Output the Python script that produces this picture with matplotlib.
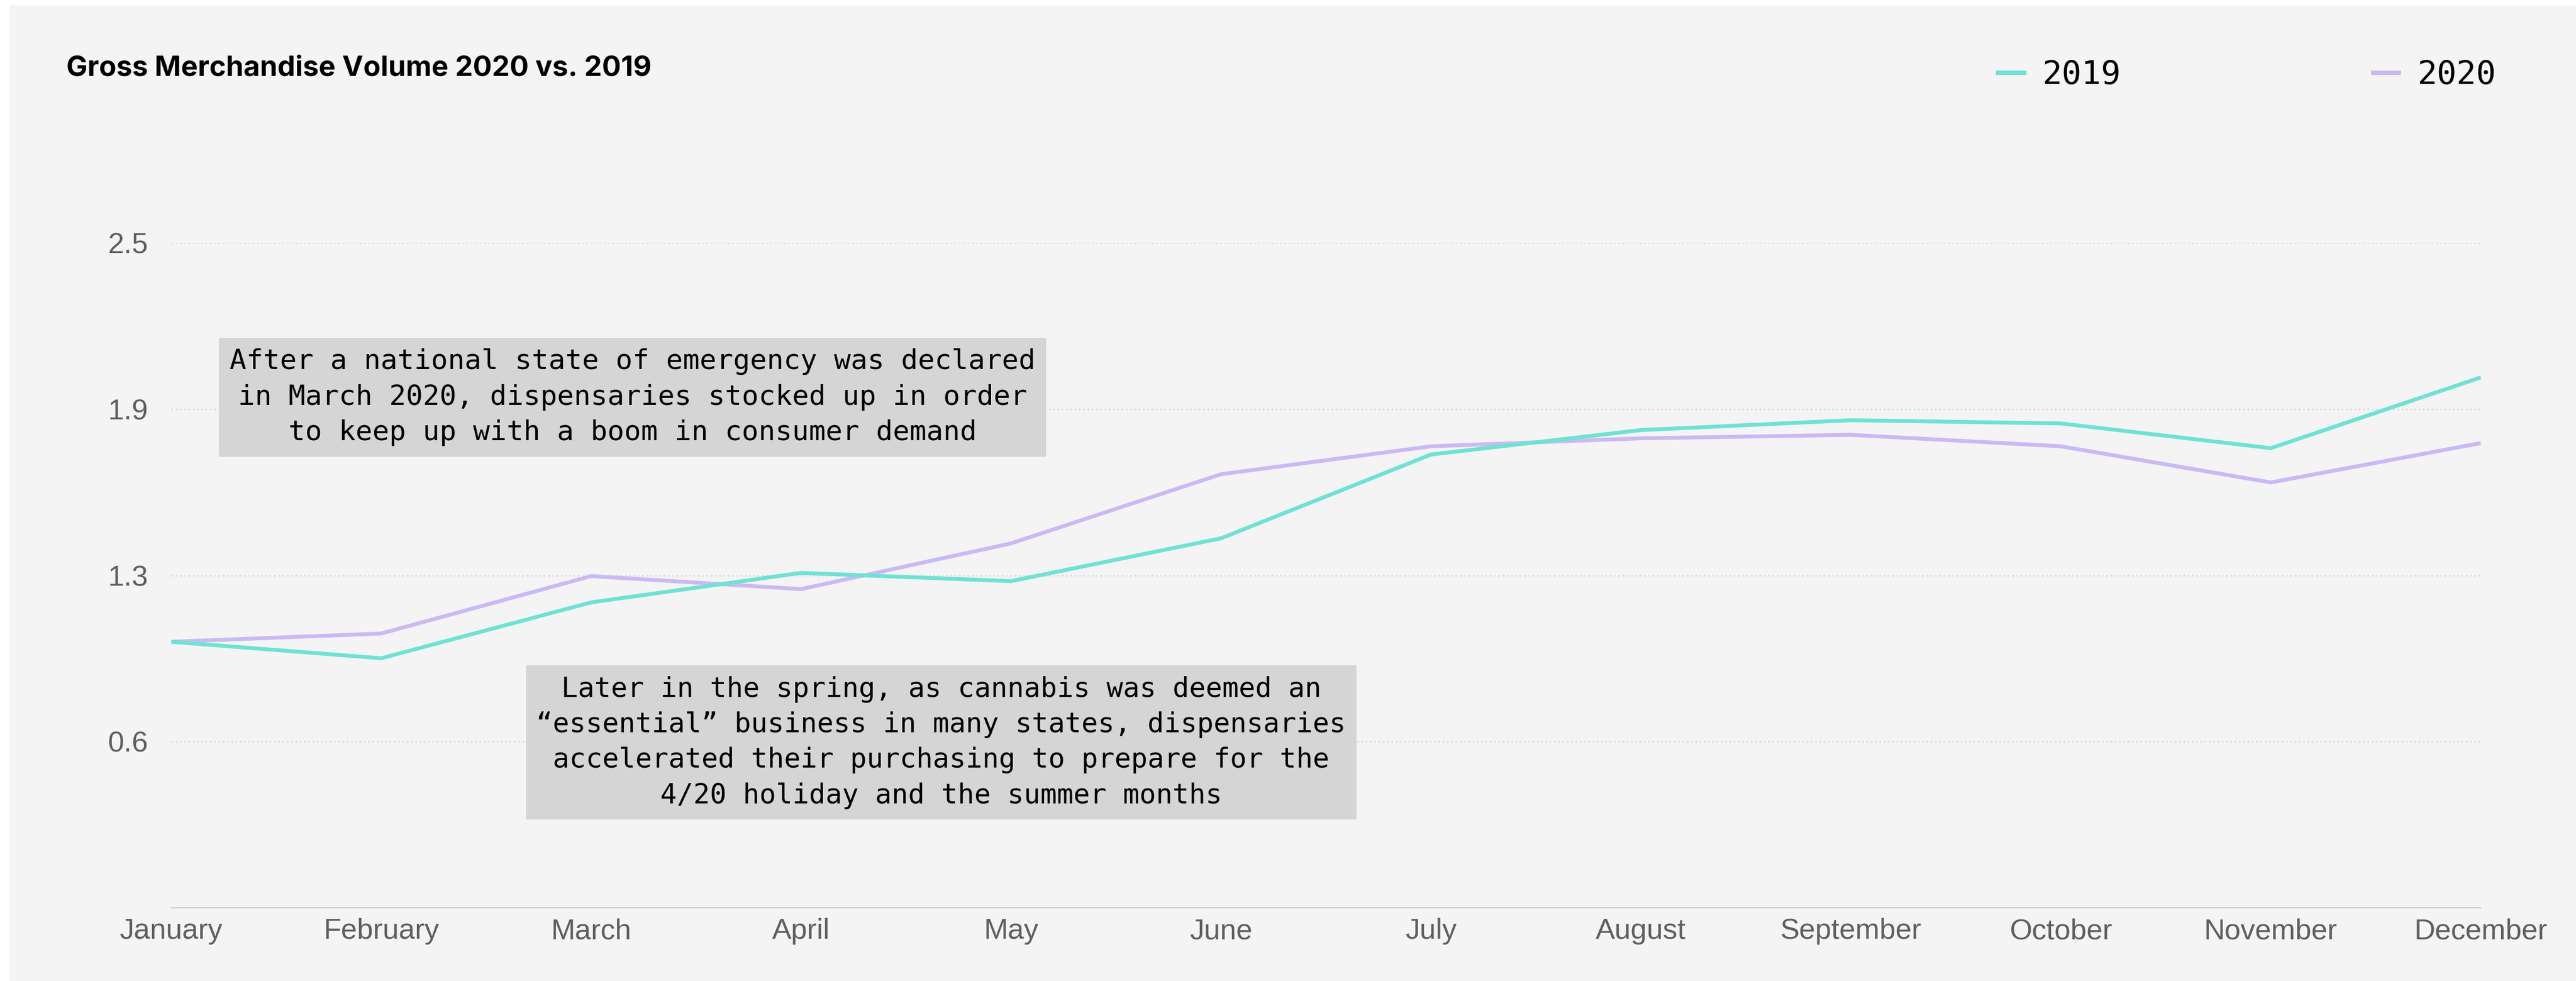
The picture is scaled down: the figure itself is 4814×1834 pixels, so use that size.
import matplotlib
matplotlib.use("Agg")
import matplotlib.pyplot as plt
from matplotlib.patches import Rectangle
from matplotlib.lines import Line2D

# monthly gross merchandise volume, indexed to January = 1.0
months = ['January', 'February', 'March', 'April', 'May', 'June', 'July',
          'August', 'September', 'October', 'November', 'December']
gmv_2019 = [1.0, 0.938, 1.148, 1.259, 1.228, 1.389, 1.704, 1.796, 1.833, 1.821, 1.728, 1.994]
gmv_2020 = [1.0, 1.031, 1.247, 1.198, 1.370, 1.630, 1.735, 1.765, 1.778, 1.735, 1.599, 1.747]
series_labels = ['2019', '2020']
y_ticks = [0.625, 1.25, 1.875, 2.5]
y_tick_labels = ['0.6', '1.3', '1.9', '2.5']

note_1 = ("After a national state of emergency was declared\n"
          "in March 2020, dispensaries stocked up in order\n"
          "to keep up with a boom in consumer demand")
note_2 = ("Later in the spring, as cannabis was deemed an\n"
          "\u201cessential\u201d business in many states, dispensaries\n"
          "accelerated their purchasing to prepare for the\n"
          "4/20 holiday and the summer months")

teal = '#6ee2d3'
purple = '#cbb9f4'
mono = 'DejaVu Sans Mono'
W, H = 4814, 1834

fig = plt.figure(figsize=(W / 100, H / 100), dpi=100)
fig.patch.set_facecolor('white')
fig.add_artist(Rectangle((18 / W, 0), 1, (H - 10) / H, transform=fig.transFigure,
                         facecolor='#f4f4f4', edgecolor='none', zorder=0))

ax = fig.add_axes([320 / W, (H - 1697) / H, 4316 / W, (1697 - 454) / H])
ax.set_facecolor('none')

x = list(range(len(months)))
l19, = ax.plot(x, gmv_2019, color=teal, lw=5.2, solid_capstyle='butt',
               solid_joinstyle='miter', clip_on=False, zorder=3)
l20, = ax.plot(x, gmv_2020, color=purple, lw=5.2, solid_capstyle='butt',
               solid_joinstyle='miter', clip_on=False, zorder=2)

ax.set_xlim(0, 11)
ax.set_ylim(0, 2.5)
ax.set_xticks(x)
ax.set_xticklabels(months)
ax.set_yticks(y_ticks)
ax.set_yticklabels(y_tick_labels)
ax.tick_params(length=0, labelsize=39, labelcolor='#5f5f5f')
ax.tick_params(axis='x', pad=14)
ax.tick_params(axis='y', pad=31)
for lab in ax.get_xticklabels() + ax.get_yticklabels():
    lab.set_fontfamily('Liberation Sans')

for side in ['top', 'left', 'right']:
    ax.spines[side].set_visible(False)
ax.spines['bottom'].set_color('#cccccc')
ax.spines['bottom'].set_linewidth(1.7)
ax.yaxis.grid(True, color='#cfcfcf', lw=1.8, linestyle=(0, (1, 2.2)))
ax.set_axisbelow(True)

# notes
box = dict(boxstyle='square,pad=0.38', facecolor='#d5d5d5', edgecolor='none')
ax.text(2.197, 1.919, note_1, ha='center', va='center', fontsize=37.5,
        family=mono, linespacing=1.42, bbox=box, zorder=4)
ax.text(3.667, 0.621, note_2, ha='center', va='center', fontsize=37,
        family=mono, linespacing=1.42, bbox=box, zorder=4)

fig.text(124 / W, 1 - 142 / H, 'Gross Merchandise Volume 2020 vs. 2019',
         fontsize=38, fontweight='bold', family='Inter', va='baseline', ha='left')

handles = [Line2D([], [], color=teal, lw=5.8), Line2D([], [], color=purple, lw=5.8)]
fig.legend(handles, series_labels, loc='center right',
           bbox_to_anchor=(4664 / W, 1 - 141 / H), ncol=2, frameon=False,
           prop={'family': mono, 'size': 44}, handlelength=0.8,
           handletextpad=0.55, columnspacing=7.7, borderpad=0, borderaxespad=0)

fig.savefig('out.png', dpi=100, facecolor='white')
